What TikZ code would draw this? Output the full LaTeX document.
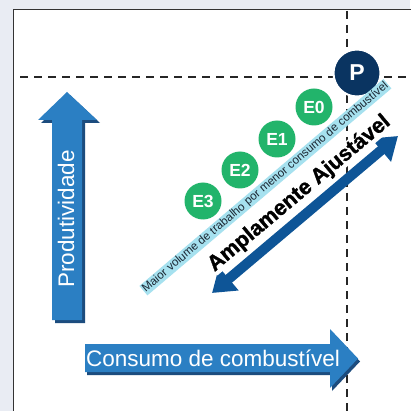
\documentclass[tikz,border=0pt]{standalone}
\usepackage{fontspec}
\setmainfont{Liberation Sans}
\newfontfamily\pesada{Liberation Sans}[BoldFeatures={FakeBold=1.3}]
\usetikzlibrary{arrows.meta}
\definecolor{fundo}{HTML}{E9ECF3}
\definecolor{azul}{HTML}{2B7FC3}
\definecolor{sombra}{HTML}{1C4C7E}
\definecolor{azulesc}{HTML}{0E5597}
\definecolor{marinho}{HTML}{0A3461}
\definecolor{verde}{HTML}{22B46B}
\definecolor{ciano}{HTML}{A6E1EF}
\definecolor{tinta}{HTML}{1B2733}

\begin{document}
\begin{tikzpicture}[x=1pt,y=-1pt,
    tracejado/.style={dash pattern=on 8pt off 6pt,line width=1.8pt,color=black!85},
    etapa/.style={circle,fill=verde,text=white,inner sep=0pt,minimum size=37pt,
      font=\bfseries\fontsize{17.5}{17.5}\selectfont},
    rotulo/.style={text=white,inner sep=0pt,font=\fontsize{22.5}{22.5}\selectfont},
    seta/.style={fill=azul},
    sombraseta/.style={fill=sombra}]
  \fill[fundo] (0,0) rectangle (410,411);
  \useasboundingbox (0,0) rectangle (410,411);
  \fill[white] (13,9) rectangle (411,412);
  \draw[line width=0.8pt,black!80] (13,412)--(13,9)--(411,9);
  % linhas de referencia
  \draw[tracejado] (347,11)--(347,411);
  \draw[tracejado] (20,77)--(410,77);
  % seta vertical
  \fill[sombraseta,shift={(3,3)}] (52,320)--(52,120)--(38,120)--(67,92)--(97,120)--(82,120)--(82,320)--cycle;
  \fill[seta] (52,320)--(52,120)--(38,120)--(67,92)--(97,120)--(82,120)--(82,320)--cycle;
  \node[rotulo,rotate=90] (prod) at (66,219) {Produtividade};
  % seta horizontal
  \fill[sombraseta,shift={(2,3)}] (85,344)--(330,344)--(330,329)--(358,358.5)--(330,388)--(330,372)--(85,372)--cycle;
  \fill[seta] (85,344)--(330,344)--(330,329)--(358,358.5)--(330,388)--(330,372)--(85,372)--cycle;
  \node[rotulo] (cons) at (213,358) {Consumo de combustível};
  % seta dupla
  \coordinate (a1) at (212,293);
  \coordinate (a2) at (398,136);
  \draw[azulesc,line width=10pt,{Triangle[width=29pt,length=22pt]}-{Triangle[width=29pt,length=22pt]}] (a1)--(a2);
  % pontos
  \foreach \n/\px/\py in {0/314/107,1/277/139,2/240/170,3/203/201}
    \node[etapa] (e\n) at (\px,\py) {E\n};
  \node[circle,fill=marinho,draw=white,line width=2pt,minimum size=47pt,inner sep=0pt,
    text=white,font=\bfseries\fontsize{23}{23}\selectfont] (p) at (357,73) {P};
  % textos diagonais
  \node[rotate=40,fill=white,inner sep=0pt,font=\pesada\bfseries\fontsize{21.5}{21.5}\selectfont]
    (ajuste) at (299.3,193.5) {Amplamente Ajustável};
  \node[rotate=40.3,fill=ciano,inner sep=0.7pt,text=tinta,font=\fontsize{11.6}{11.6}\selectfont]
    (lema) at (265.4,187.2) {Maior volume de trabalho por menor consumo de combustível};
\end{tikzpicture}
\end{document}
